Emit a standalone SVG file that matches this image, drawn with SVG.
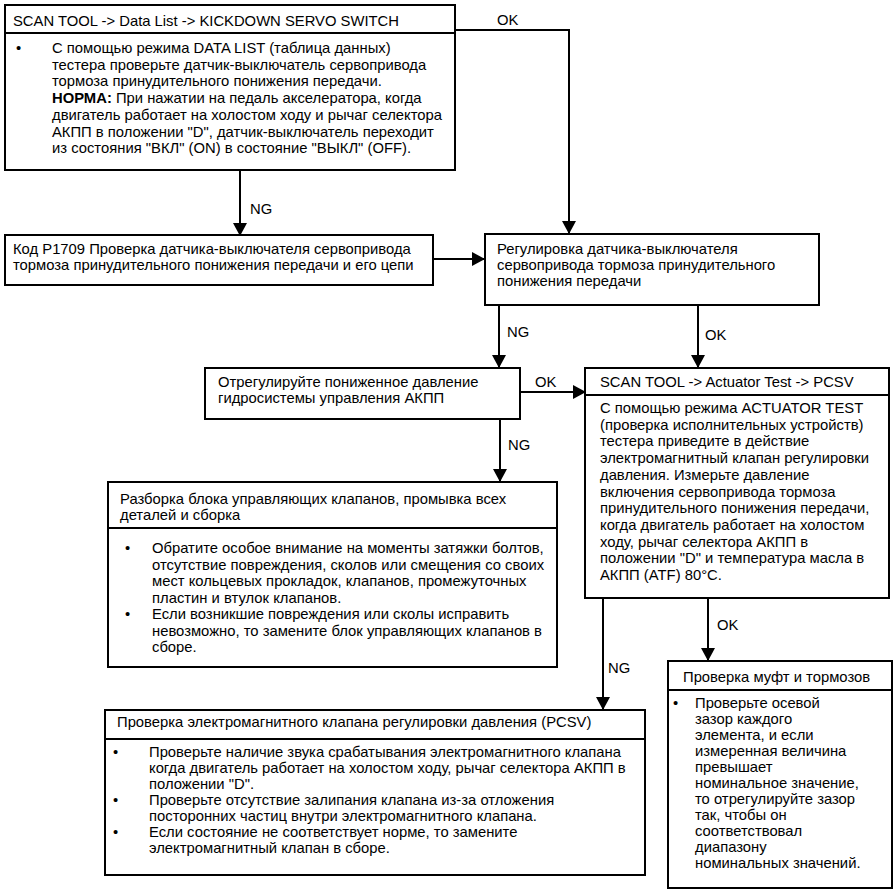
<svg xmlns="http://www.w3.org/2000/svg" width="896" height="894" viewBox="0 0 896 894">
<defs>
<marker id="ah" markerWidth="14" markerHeight="14" refX="12" refY="7" orient="auto" markerUnits="userSpaceOnUse">
<path d="M0,0 L13,7 L0,14 Z" fill="#000"/>
</marker>
<style>
text{font-family:"Liberation Sans",Arial,sans-serif;font-size:14.8px;fill:#000}
.b{font-weight:bold}
.box{fill:#fff;stroke:#000;stroke-width:2}
.div{stroke:#000;stroke-width:2}
.con{fill:none;stroke:#000;stroke-width:2;marker-end:url(#ah)}
</style>
</defs>
<rect width="896" height="894" fill="#fff"/>
<g id="connectors">
<path class="con" d="M240,170 V235"/>
<path class="con" d="M455,30 H569 V233"/>
<path class="con" d="M433,259 H484"/>
<path class="con" d="M499,305 V367"/>
<path class="con" d="M698,305 V367"/>
<path class="con" d="M520,392 H585"/>
<path class="con" d="M500,419 V481"/>
<path class="con" d="M603,598 V709"/>
<path class="con" d="M708,598 V660"/>
<text x="497" y="25">OK</text>
<text x="250" y="214">NG</text>
<text x="507" y="337">NG</text>
<text x="705" y="340">OK</text>
<text x="535" y="387">OK</text>
<text x="508" y="450">NG</text>
<text x="717" y="630">OK</text>
<text x="608" y="673">NG</text>
</g>
<g id="n1">
<rect class="box" x="5" y="5" width="450" height="165"/>
<line class="div" x1="5" y1="33" x2="455" y2="33"/>
<text x="13" y="26">SCAN TOOL -&gt; Data List -&gt; KICKDOWN SERVO SWITCH</text>
<text x="16" y="53">•</text>
<text x="52" y="53">С помощью режима DATA LIST (таблица данных)</text>
<text x="52" y="69.7">тестера проверьте датчик-выключатель сервопривода</text>
<text x="52" y="86.4">тормоза принудительного понижения передачи.</text>
<text x="52" y="103.1"><tspan class="b">НОРМА:</tspan> При нажатии на педаль акселератора, когда</text>
<text x="52" y="119.8">двигатель работает на холостом ходу и рычаг селектора</text>
<text x="52" y="136.5">АКПП в положении "D", датчик-выключатель переходит</text>
<text x="52" y="153.2">из состояния "ВКЛ" (ON) в состояние "ВЫКЛ" (OFF).</text>
</g>
<g id="n2">
<rect class="box" x="5" y="235" width="428" height="50"/>
<text x="13" y="254">Код P1709 Проверка датчика-выключателя сервопривода</text>
<text x="13" y="270">тормоза принудительного понижения передачи и его цепи</text>
</g>
<g id="n3">
<rect class="box" x="485" y="234" width="334" height="71"/>
<text x="497" y="254">Регулировка датчика-выключателя</text>
<text x="497" y="270">сервопривода тормоза принудительного</text>
<text x="497" y="286">понижения передачи</text>
</g>
<g id="n4">
<rect class="box" x="205" y="368" width="315" height="51"/>
<text x="218" y="387">Отрегулируйте пониженное давление</text>
<text x="218" y="403">гидросистемы управления АКПП</text>
</g>
<g id="n5">
<rect class="box" x="585" y="368" width="304" height="230"/>
<line class="div" x1="585" y1="395" x2="889" y2="395"/>
<text x="600" y="387">SCAN TOOL -&gt; Actuator Test -&gt; PCSV</text>
<text x="600" y="413">С помощью режима ACTUATOR TEST</text>
<text x="600" y="429.7">(проверка исполнительных устройств)</text>
<text x="600" y="446.4">тестера приведите в действие</text>
<text x="600" y="463.1">электромагнитный клапан регулировки</text>
<text x="600" y="479.8">давления. Измерьте давление</text>
<text x="600" y="496.5">включения сервопривода тормоза</text>
<text x="600" y="513.2">принудительного понижения передачи,</text>
<text x="600" y="529.9">когда двигатель работает на холостом</text>
<text x="600" y="546.6">ходу, рычаг селектора АКПП в</text>
<text x="600" y="563.3">положении "D" и температура масла в</text>
<text x="600" y="580">АКПП (ATF) 80°C.</text>
</g>
<g id="n6">
<rect class="box" x="108" y="482" width="449" height="185"/>
<line class="div" x1="108" y1="528" x2="557" y2="528"/>
<text x="120" y="504">Разборка блока управляющих клапанов, промывка всех</text>
<text x="120" y="520">деталей и сборка</text>
<text x="125" y="553">•</text>
<text x="152" y="553">Обратите особое внимание на моменты затяжки болтов,</text>
<text x="152" y="569.5">отсутствие повреждения, сколов или смещения со своих</text>
<text x="152" y="586">мест кольцевых прокладок, клапанов, промежуточных</text>
<text x="152" y="602.5">пластин и втулок клапанов.</text>
<text x="125" y="619">•</text>
<text x="152" y="619">Если возникшие повреждения или сколы исправить</text>
<text x="152" y="635.5">невозможно, то замените блок управляющих клапанов в</text>
<text x="152" y="652">сборе.</text>
</g>
<g id="n7">
<rect class="box" x="105" y="710" width="540" height="165"/>
<line class="div" x1="105" y1="739" x2="645" y2="739"/>
<text x="117" y="727">Проверка электромагнитного клапана регулировки давления (PCSV)</text>
<text x="113" y="757">•</text>
<text x="149" y="757">Проверьте наличие звука срабатывания электромагнитного клапана</text>
<text x="149" y="773">когда двигатель работает на холостом ходу, рычаг селектора АКПП в</text>
<text x="149" y="789">положении "D".</text>
<text x="113" y="805">•</text>
<text x="149" y="805">Проверьте отсутствие залипания клапана из-за отложения</text>
<text x="149" y="821">посторонних частиц внутри электромагнитного клапана.</text>
<text x="113" y="837">•</text>
<text x="149" y="837">Если состояние не соответствует норме, то замените</text>
<text x="149" y="853">электромагнитный клапан в сборе.</text>
</g>
<g id="n8">
<rect class="box" x="668" y="661" width="224" height="227"/>
<line class="div" x1="668" y1="690" x2="892" y2="690"/>
<text x="683" y="682">Проверка муфт и тормозов</text>
<text x="673" y="708">•</text>
<text x="695" y="708">Проверьте осевой</text>
<text x="695" y="724">зазор каждого</text>
<text x="695" y="740">элемента, и если</text>
<text x="695" y="756">измеренная величина</text>
<text x="695" y="772">превышает</text>
<text x="695" y="788">номинальное значение,</text>
<text x="695" y="804">то отрегулируйте зазор</text>
<text x="695" y="820">так, чтобы он</text>
<text x="695" y="836">соответствовал</text>
<text x="695" y="852">диапазону</text>
<text x="695" y="868">номинальных значений.</text>
</g>
</svg>
